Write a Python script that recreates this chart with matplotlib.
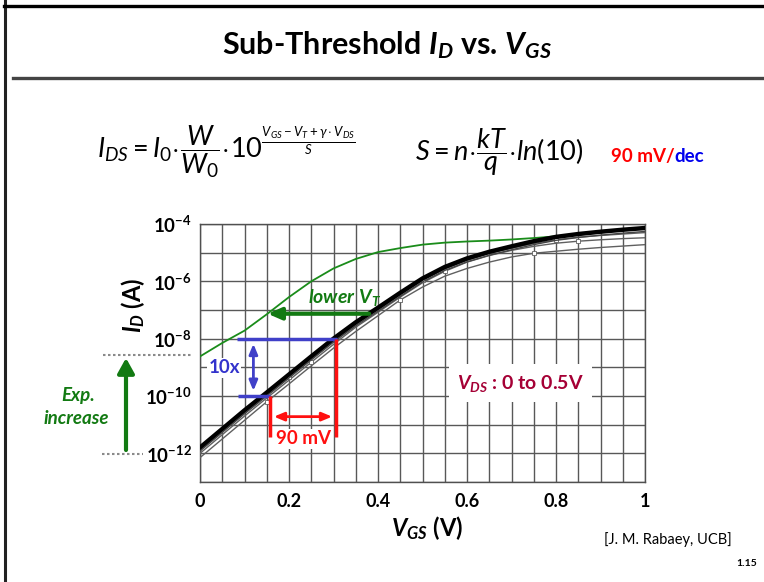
import numpy as np
import matplotlib
matplotlib.use('Agg')
import matplotlib.pyplot as plt
from matplotlib.lines import Line2D
from matplotlib.ticker import NullLocator, MultipleLocator

plt.rcParams['font.family'] = ['Lato', 'DejaVu Sans']
plt.rcParams['mathtext.fontset'] = 'custom'
plt.rcParams['mathtext.rm'] = 'Lato'
plt.rcParams['mathtext.it'] = 'Lato:italic'
plt.rcParams['mathtext.bf'] = 'Lato:bold'
plt.rcParams['mathtext.bfit'] = 'Lato:bold:italic'
plt.rcParams['mathtext.sf'] = 'Lato'

# ---------------- data (log10 of I_D in A) ----------------
vgs = [0.0, 0.05, 0.10, 0.15, 0.20, 0.25, 0.30, 0.35, 0.40, 0.45, 0.50,
       0.55, 0.60, 0.65, 0.70, 0.75, 0.80, 0.85, 0.90, 0.95, 1.00]
log_id_black = [-11.80, -11.15, -10.50, -9.88, -9.25, -8.62, -8.00, -7.43, -6.92, -6.40, -5.90,
                -5.50, -5.20, -4.97, -4.78, -4.60, -4.45, -4.35, -4.27, -4.20, -4.14]
log_id_gray1 = [-12.15, -11.50, -10.85, -10.20, -9.58, -8.95, -8.33, -7.75, -7.20, -6.65, -6.20,
                -5.82, -5.55, -5.33, -5.15, -5.02, -4.95, -4.88, -4.82, -4.77, -4.72]
log_id_gray2 = [-12.00, -11.35, -10.70, -10.07, -9.45, -8.82, -8.20, -7.60, -7.08, -6.55, -6.05,
                -5.65, -5.33, -5.10, -4.92, -4.78, -4.67, -4.60, -4.55, -4.51, -4.48]
log_id_gray3 = [-11.90, -11.25, -10.60, -9.97, -9.35, -8.72, -8.10, -7.52, -7.00, -6.47, -5.97,
                -5.57, -5.27, -5.03, -4.85, -4.68, -4.55, -4.46, -4.40, -4.35, -4.30]
log_id_green = [-8.62, -8.15, -7.72, -7.15, -6.55, -6.00, -5.55, -5.22, -4.98, -4.84, -4.72,
                -4.65, -4.61, -4.58, -4.54, -4.49, -4.43, -4.36, -4.28, -4.21, -4.15]

x_tick_vals = [0, 0.2, 0.4, 0.6, 0.8, 1.0]
x_tick_labels = ['0', '0.2', '0.4', '0.6', '0.8', '1']
y_decades = list(range(-13, -3))
y_labeled = [-12, -10, -8, -6, -4]

# ---------------- figure ----------------
W, H = 764, 582
fig = plt.figure(figsize=(W / 100, H / 100), dpi=100)
def fx(px): return px / W
def fy(py): return 1 - py / H

GREEN = '#127a12'
CURVE_GREEN = '#1a8c1a'
RED = '#ff1010'
BLUE = '#4040c8'
DARKRED = '#a50035'

# frame and title rule
fig.add_artist(Line2D([fx(5), fx(5)], [0, 1], color='#222222', lw=2.2))
fig.add_artist(Line2D([fx(4), 1], [fy(6), fy(6)], color='black', lw=2.4))
fig.add_artist(Line2D([fx(13), fx(762)], [fy(78), fy(78)], color='#444444', lw=2.4))

fig.text(fx(387), fy(45), r'Sub-Threshold $\mathbfit{I_D}$ vs. $\mathbfit{V_{GS}}$',
         ha='center', va='center', fontsize=22, fontweight='bold')

# formulas
fig.text(fx(97), fy(152),
         r'$I_{DS}=I_0\!\cdot\!\dfrac{W}{W_0}\!\cdot\!10^{\frac{V_{GS}-V_T+\gamma\cdot V_{DS}}{S}}$',
         ha='left', va='center', fontsize=19.5)
fig.text(fx(415), fy(152), r'$S=n\!\cdot\!\dfrac{kT}{q}\!\cdot\!ln(10)$',
         ha='left', va='center', fontsize=19.5)
t1 = fig.text(fx(611), fy(157), '90 mV/', ha='left', va='center', fontsize=13.5,
              fontweight='bold', color='#ff0000')
fig.canvas.draw()
bb = t1.get_window_extent()
fig.text(bb.x1 / W, fy(157), 'dec', ha='left', va='center', fontsize=13.5,
         fontweight='bold', color='#0000ee')

# ---------------- axes ----------------
ax = fig.add_axes([fx(200), fy(482), fx(645) - fx(200), fy(224) - fy(482)])
ax.set_yscale('log')
ax.set_xlim(0, 1)
ax.set_ylim(10.0 ** -13, 10.0 ** -4)

vg = np.array(vgs)
ax.plot(vg, 10.0 ** np.array(log_id_green), color=CURVE_GREEN, lw=1.3, zorder=3)
for arr, mk in [(log_id_gray1, 3), (log_id_gray2, 5), (log_id_gray3, 4)]:
    ax.plot(vg, 10.0 ** np.array(arr), color='#606060', lw=1.0, zorder=4,
            marker='s', markersize=2.5, markerfacecolor='white', markeredgewidth=0.6,
            markevery=(mk, 6))
ax.plot(vg, 10.0 ** np.array(log_id_black), color='black', lw=3.2, zorder=5)
ax.plot(vg, 10.0 ** (np.array(log_id_black) - 0.12), color='#444444', lw=1.0, zorder=5)

ax.set_xticks(x_tick_vals, labels=x_tick_labels)
ax.xaxis.set_minor_locator(MultipleLocator(0.05))
ax.set_yticks([10.0 ** k for k in y_decades],
              labels=[(r'$\mathbf{10^{%d}}$' % k) if k in y_labeled else '' for k in y_decades])
ax.yaxis.set_minor_locator(NullLocator())
ax.tick_params(which='both', length=0)
ax.tick_params(axis='x', pad=8, labelsize=13)
ax.tick_params(axis='y', pad=6, labelsize=13.5)
for lab in ax.get_xticklabels():
    lab.set_fontweight('bold')
ax.grid(True, which='both', color='#585858', lw=1.0, zorder=1)
for s in ax.spines.values():
    s.set_color('#505050')
    s.set_linewidth(1.0)

# y label / x label
fig.text(fx(133), fy(305), r'$\mathbfit{I_D}$ (A)', rotation=90, ha='center', va='center',
         fontsize=17, fontweight='bold')
fig.text(fx(427), fy(528), r'$\mathbfit{V_{GS}}$ (V)', ha='center', va='center',
         fontsize=17, fontweight='bold')

# ---------------- annotations ----------------
L = lambda v: 10.0 ** v
ax.plot([0.083, 0.307], [L(-8), L(-8)], color=BLUE, lw=2.5, zorder=6, solid_capstyle='butt')
ax.plot([0.085, 0.157], [L(-10), L(-10)], color=BLUE, lw=2.5, zorder=6, solid_capstyle='butt')
ax.annotate('', xy=(0.12, L(-9.82)), xytext=(0.12, L(-8.18)),
            arrowprops=dict(arrowstyle='<|-|>,head_width=0.25,head_length=0.6',
                            color=BLUE, lw=2, shrinkA=0, shrinkB=0), zorder=7)
ax.text(0.054, L(-9.02), '10x', color='#3333cc', fontsize=13.5, fontweight='bold',
        ha='center', va='center', zorder=7,
        bbox=dict(facecolor='white', edgecolor='none', pad=1))

ax.plot([0.157, 0.157], [L(-10), L(-11.42)], color=RED, lw=2.5, zorder=6, solid_capstyle='butt')
ax.plot([0.305, 0.305], [L(-8), L(-11.42)], color=RED, lw=2.5, zorder=6, solid_capstyle='butt')
ax.annotate('', xy=(0.166, L(-10.72)), xytext=(0.297, L(-10.72)),
            arrowprops=dict(arrowstyle='<|-|>,head_width=0.25,head_length=0.6',
                            color=RED, lw=2, shrinkA=0, shrinkB=0), zorder=7)
ax.text(0.232, L(-11.5), '90 mV', color=RED, fontsize=13.5, fontweight='bold',
        ha='center', va='center', zorder=7,
        bbox=dict(facecolor='white', edgecolor='none', pad=1))

ax.annotate('', xy=(0.152, L(-7.13)), xytext=(0.38, L(-7.13)),
            arrowprops=dict(arrowstyle='-|>,head_width=0.35,head_length=0.8',
                            color=GREEN, lw=3, shrinkA=0, shrinkB=0), zorder=7)
ax.text(0.325, L(-6.55), r'$\mathbfit{lower\ V_T}$', color=GREEN, fontsize=14,
        ha='center', va='center', zorder=7)

ax.text(0.72, L(-9.55), r'$\mathbfit{V_{DS}}$ : 0 to 0.5V', color=DARKRED, fontsize=14,
        fontweight='bold', ha='center', va='center', zorder=7,
        bbox=dict(facecolor='white', edgecolor='none', pad=6))

# left "Exp. increase"
fig.add_artist(Line2D([fx(103), fx(192)], [fy(355), fy(355)], color='#8a8a8a', lw=1.5,
                      linestyle=(0, (1.2, 1.2))))
fig.add_artist(Line2D([fx(102), fx(143)], [fy(454), fy(454)], color='#8a8a8a', lw=1.5,
                      linestyle=(0, (1.2, 1.2))))
fig.patches.append(matplotlib.patches.FancyArrowPatch(
    (fx(126), fy(450)), (fx(126), fy(358)), transform=fig.transFigure, figure=fig,
    arrowstyle='-|>,head_width=5,head_length=9', color=GREEN, lw=3, shrinkA=0, shrinkB=0))
fig.text(fx(78), fy(396), 'Exp.', color=GREEN, fontsize=13.5, fontweight='bold',
         fontstyle='italic', ha='center', va='center')
fig.text(fx(76), fy(418), 'increase', color=GREEN, fontsize=13.5, fontweight='bold',
         fontstyle='italic', ha='center', va='center')

fig.text(fx(668), fy(540), '[J. M. Rabaey, UCB]', ha='center', va='center', fontsize=10.5)
fig.text(fx(757), fy(563), '1.15', ha='right', va='center', fontsize=7.5, fontweight='bold')

fig.savefig('out.png', dpi=100)
